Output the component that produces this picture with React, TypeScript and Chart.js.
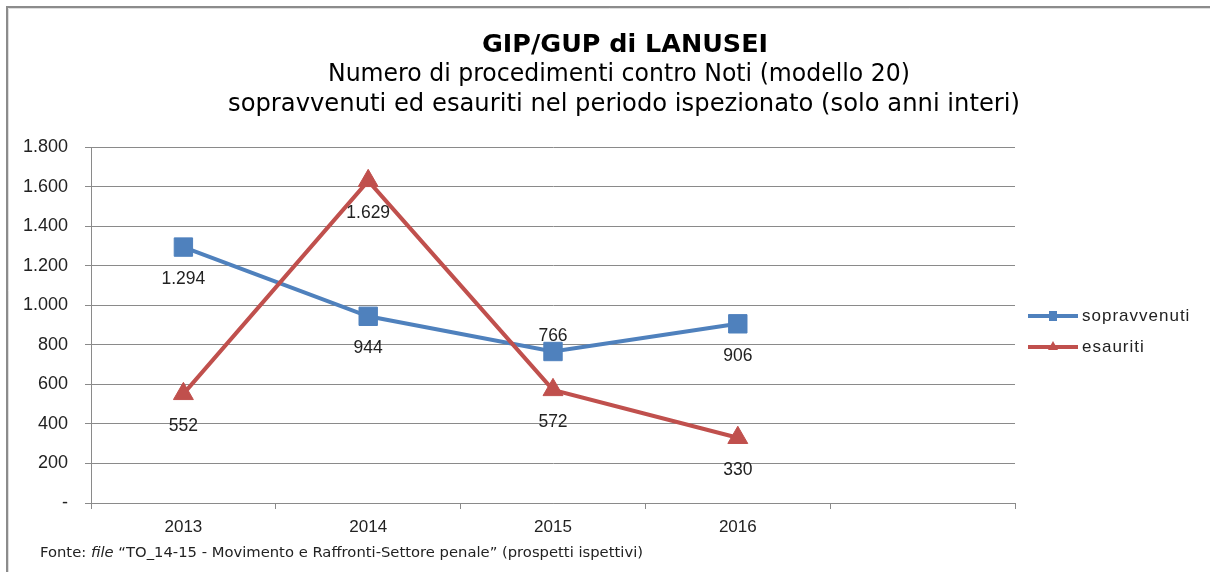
import React, { useEffect, useRef } from "react";
import { Chart, registerables } from "chart.js";

Chart.register(...registerables);

const categories = ["2013", "2014", "2015", "2016", ""];
const sopravvenuti = [1294, 944, 766, 906, null];
const esauriti = [552, 1629, 572, 330, null];
const yTicks = { min: 0, max: 1800, step: 200 };

const titleLines = [
  "GIP/GUP di LANUSEI",
  "Numero di procedimenti contro Noti (modello 20)",
  "sopravvenuti ed esauriti nel periodo ispezionato (solo anni interi)",
];
const sourceParts = [
  { text: "Fonte: ", italic: false },
  { text: "file", italic: true },
  { text: " \u201cTO_14-15 - Movimento e Raffronti-Settore penale\u201d (prospetti ispettivi)", italic: false },
];

const labelPlacement = [
  ["below", "below", "above", "below"],
  ["below", "below", "below", "below"],
];

const BLUE = "#4F81BD";
const RED = "#C0504D";
const GRID = "#8a8a8a";

const fmt = (v: number) =>
  v === 0 ? "-" : String(v).replace(/\B(?=(\d{3})+(?!\d))/g, ".");

function drawFit(ctx: CanvasRenderingContext2D, text: string, cx: number, cy: number, target: number) {
  const w = ctx.measureText(text).width;
  ctx.save();
  ctx.translate(cx, cy);
  ctx.scale(target / w, 1);
  ctx.textAlign = "center";
  ctx.textBaseline = "middle";
  ctx.fillText(text, 0, 0);
  ctx.restore();
}

const decorPlugin = {
  id: "decor",
  afterDraw(chart: any) {
    const ctx: CanvasRenderingContext2D = chart.ctx;
    ctx.save();
    // frame
    ctx.strokeStyle = "#8c8c8c";
    ctx.lineWidth = 2;
    ctx.beginPath();
    ctx.moveTo(7, 572);
    ctx.lineTo(7, 7);
    ctx.lineTo(1210, 7);
    ctx.stroke();
    ctx.strokeStyle = "#dedede";
    ctx.lineWidth = 1;
    ctx.beginPath();
    ctx.moveTo(8.5, 572);
    ctx.lineTo(8.5, 8.5);
    ctx.lineTo(1210, 8.5);
    ctx.stroke();

    // titles
    ctx.fillStyle = "#000";
    ctx.font = 'bold 25px "DejaVu Sans"';
    drawFit(ctx, titleLines[0], 625, 45, 286);
    ctx.font = '24px "DejaVu Sans"';
    drawFit(ctx, titleLines[1], 619, 75, 582);
    drawFit(ctx, titleLines[2], 624, 105, 792);

    // data labels
    ctx.font = '17.5px "Liberation Sans"';
    ctx.fillStyle = "#222";
    ctx.textAlign = "center";
    ctx.textBaseline = "middle";
    chart.data.datasets.forEach((ds: any, di: number) => {
      const meta = chart.getDatasetMeta(di);
      meta.data.forEach((pt: any, i: number) => {
        const v = ds.data[i];
        if (v === null || v === undefined) return;
        const above = labelPlacement[di][i] === "above";
        ctx.fillText(fmt(v), pt.x, pt.y + (above ? -15 : 32));
      });
    });

    // legend
    const items = [
      { label: "sopravvenuti", color: BLUE, shape: "rect", y: 316 },
      { label: "esauriti", color: RED, shape: "tri", y: 347 },
    ];
    items.forEach((it) => {
      ctx.strokeStyle = it.color;
      ctx.fillStyle = it.color;
      ctx.lineWidth = 4;
      ctx.beginPath();
      ctx.moveTo(1028, it.y);
      ctx.lineTo(1078, it.y);
      ctx.stroke();
      ctx.beginPath();
      if (it.shape === "rect") {
        ctx.rect(1049, it.y - 5, 8, 10);
      } else {
        ctx.moveTo(1053, it.y - 6);
        ctx.lineTo(1058, it.y + 3);
        ctx.lineTo(1048, it.y + 3);
        ctx.closePath();
      }
      ctx.fill();
      ctx.fillStyle = "#222";
      ctx.font = '17px "Liberation Sans"';
      (ctx as any).letterSpacing = "1px";
      ctx.textAlign = "left";
      ctx.textBaseline = "middle";
      ctx.fillText(it.label, 1082, it.y);
      (ctx as any).letterSpacing = "0px";
    });

    // source
    ctx.fillStyle = "#222";
    const fontN = '14px "DejaVu Sans"';
    const fontI = 'italic 14px "DejaVu Sans"';
    let total = 0;
    sourceParts.forEach((p) => {
      ctx.font = p.italic ? fontI : fontN;
      total += ctx.measureText(p.text).width;
    });
    const sx = (643 - 40) / total;
    ctx.translate(40, 553);
    ctx.scale(sx, 1);
    ctx.textAlign = "left";
    ctx.textBaseline = "middle";
    let x = 0;
    sourceParts.forEach((p) => {
      ctx.font = p.italic ? fontI : fontN;
      ctx.fillText(p.text, x, 0);
      x += ctx.measureText(p.text).width;
    });
    ctx.restore();
  },
};

export default function App() {
  const ref = useRef<HTMLCanvasElement | null>(null);
  useEffect(() => {
    if (!ref.current) return;
    const chart = new Chart(ref.current, {
      type: "line",
      data: {
        labels: categories,
        datasets: [
          {
            label: "sopravvenuti",
            data: sopravvenuti,
            borderColor: BLUE,
            backgroundColor: BLUE,
            borderWidth: 4,
            pointStyle: "rect",
            pointRadius: 13,
            pointBorderWidth: 1,
            pointBackgroundColor: BLUE,
            pointBorderColor: BLUE,
            tension: 0,
            order: 1,
          },
          {
            label: "esauriti",
            data: esauriti,
            borderColor: RED,
            backgroundColor: RED,
            borderWidth: 4,
            pointStyle: "triangle",
            pointRadius: 11.5,
            pointBorderWidth: 1,
            pointBackgroundColor: RED,
            pointBorderColor: RED,
            tension: 0,
            order: 0,
          },
        ],
      },
      options: {
        responsive: false,
        animation: false,
        events: [],
        layout: { padding: { left: 0, right: 195, top: 147, bottom: 0 } },
        plugins: { legend: { display: false }, tooltip: { enabled: false }, title: { display: false } },
        scales: {
          x: {
            type: "category",
            offset: true,
            afterFit: (s: any) => {
              s.height = 69;
            },
            grid: {
              offset: true,
              drawOnChartArea: false,
              drawTicks: true,
              tickLength: 6,
              color: GRID,
            },
            border: { color: GRID, width: 1 },
            ticks: {
              color: "#222",
              font: { family: "Liberation Sans", size: 17 },
              padding: 8,
              maxRotation: 0,
              autoSkip: false,
            },
          },
          y: {
            min: yTicks.min,
            max: yTicks.max,
            afterFit: (s: any) => {
              s.width = 91;
            },
            grid: { color: GRID, tickLength: 6, drawTicks: true },
            border: { color: GRID, width: 1 },
            ticks: {
              stepSize: yTicks.step,
              color: "#222",
              font: { family: "Liberation Sans", size: 18 },
              padding: 17,
              callback: (v: any) => fmt(Number(v)),
            },
          },
        },
      },
      plugins: [decorPlugin],
    });
    return () => chart.destroy();
  }, []);
  return (
    <div style={{ position: "fixed", left: 0, top: 0, width: 1210, height: 572, background: "#fff" }}>
      <canvas ref={ref} width={1210} height={572} style={{ display: "block" }} />
    </div>
  );
}
